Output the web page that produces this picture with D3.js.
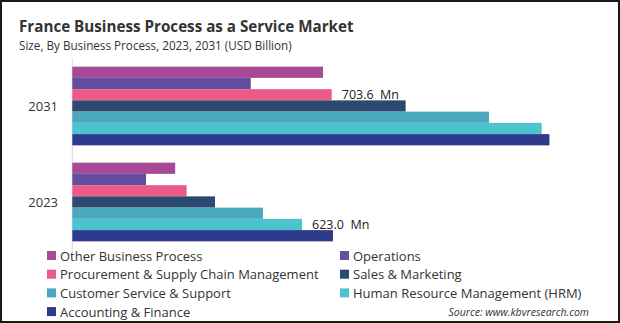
<!DOCTYPE html>
<html>
<head>
<meta charset="utf-8">
<script src="https://cdn.jsdelivr.net/npm/d3@7"></script>
<style>
  body { margin: 0; background: #fff; }
  svg { display: block; font-family: "Open Sans", "Noto Sans", sans-serif; }
</style>
</head>
<body>
<svg id="chart" width="620" height="323"></svg>
<script>
// market size by business process, USD Mn
const years = ["2031", "2023"];
const segments = [
  "Other Business Process",
  "Operations",
  "Procurement & Supply Chain Management",
  "Sales & Marketing",
  "Customer Service & Support",
  "Human Resource Management (HRM)",
  "Accounting & Finance"
];
const values2031 = [680, 484, 703.6, 904, 1130, 1273, 1294];
const values2023 = [279, 200, 310, 387, 517, 623.0, 707];
const colors = ["#a64a98", "#604f9f", "#ec5a89", "#2c4a6f", "#4aa7bf", "#4dc3cf", "#2e3a8b"];
// which bar carries a value label in each year
const labelled = { "2031": 2, "2023": 5 };

const svg = d3.select("#chart");
const W = 620, H = 323;

let data = years.map(y => ({
  year: y,
  vals: y == "2031" ? values2031 : values2023
}));

// frame
svg.append("rect")
  .attr("x", 1).attr("y", 1)
  .attr("width", W - 2).attr("height", H - 2)
  .attr("fill", "#fff")
  .attr("stroke", "#1a1a1a")
  .attr("stroke-width", 2);

svg.append("text")
  .attr("x", 19).attr("y", 32)
  .attr("font-size", 15.2)
  .attr("font-weight", "bold")
  .attr("fill", "#333")
  .text("France Business Process as a Service Market");

svg.append("text")
  .attr("x", 19).attr("y", 50)
  .attr("font-size", 11.7)
  .attr("fill", "#333")
  .text("Size, By Business Process, 2023, 2031 (USD Billion)");

let xScale = d3.scaleLinear().domain([0, 1400]).range([72.3, 72.3 + 1400 / 2.712]);
let yScale = d3.scaleBand().domain(years).range([58, 250]).paddingInner(0.18).paddingOuter(0.09);
let inner = d3.scaleBand().domain(d3.range(segments.length)).range([0, yScale.bandwidth()]);

// category axis line
svg.append("line")
  .attr("x1", xScale(0)).attr("x2", xScale(0))
  .attr("y1", 58).attr("y2", 252)
  .attr("stroke", "#d9d9d9")
  .attr("stroke-width", 1);

let groups = svg.selectAll("g.year")
  .data(data)
  .enter()
  .append("g")
  .attr("class", "year")
  .attr("transform", d => `translate(0,${yScale(d.year)})`);

groups.selectAll("rect")
  .data(d => d.vals.map((v, i) => ({ v: v, i: i })))
  .enter()
  .append("rect")
  .attr("x", xScale(0))
  .attr("y", d => inner(d.i))
  .attr("width", d => xScale(d.v) - xScale(0))
  .attr("height", inner.bandwidth())
  .attr("fill", d => colors[d.i]);

groups.append("text")
  .attr("x", 58)
  .attr("y", yScale.bandwidth() / 2 + 5)
  .attr("text-anchor", "end")
  .attr("font-size", 13)
  .attr("fill", "#333")
  .text(d => d.year);

// value labels sit just past the bar end, on its bottom edge
groups.append("text")
  .attr("x", d => xScale(d.vals[labelled[d.year]]) + 10)
  .attr("y", d => inner(labelled[d.year]) + inner.bandwidth() - 1)
  .attr("font-size", 12.5)
  .attr("fill", "#222")
  .attr("xml:space", "preserve")
  .text(d => d.vals[labelled[d.year]].toFixed(1) + "  Mn");

// legend, two columns
let legend = svg.selectAll("g.legend")
  .data(segments)
  .enter()
  .append("g")
  .attr("class", "legend")
  .attr("transform", (d, i) => `translate(${i % 2 == 0 ? 47 : 340},${256 + Math.floor(i / 2) * 18.7})`);

legend.append("rect")
  .attr("x", 0).attr("y", -5)
  .attr("width", 9).attr("height", 9)
  .attr("fill", (d, i) => colors[i]);

legend.append("text")
  .attr("x", 13).attr("y", 4.5)
  .attr("font-size", 13)
  .attr("fill", "#333")
  .text(d => d);

svg.append("text")
  .attr("x", 589).attr("y", 316)
  .attr("text-anchor", "end")
  .attr("font-size", 10.5)
  .attr("font-style", "italic")
  .attr("fill", "#333")
  .text("Source: www.kbvresearch.com");
</script>
</body>
</html>
